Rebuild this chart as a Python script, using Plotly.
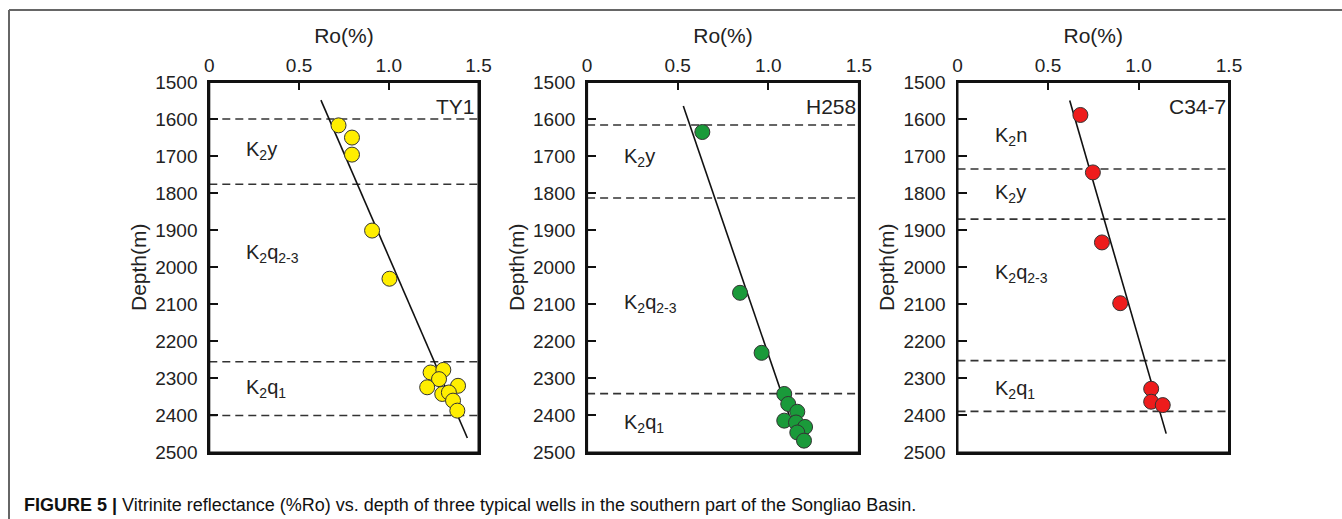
import plotly.graph_objects as go

# ---------------- data ----------------
wells = ["TY1", "H258", "C34-7"]

ty1_ro = [0.72, 0.795, 0.795, 0.907, 1.004, 1.233, 1.304, 1.28, 1.214, 1.386, 1.298, 1.335, 1.358, 1.382]
ty1_depth = [1617, 1650, 1696, 1901, 2031, 2284, 2277, 2302, 2324, 2320, 2342, 2338, 2360, 2387]
ty1_trend_ro = [0.622, 1.438]
ty1_trend_depth = [1549, 2461]
ty1_bounds = [1600, 1776, 2255, 2400]
ty1_units = ["K<sub>2</sub>y", "K<sub>2</sub>q<sub>2-3</sub>", "K<sub>2</sub>q<sub>1</sub>"]
ty1_unit_depth = [1685, 1963, 2328]

h258_ro = [0.636, 0.844, 0.963, 1.088, 1.11, 1.16, 1.088, 1.153, 1.203, 1.16, 1.197]
h258_depth = [1635, 2069, 2231, 2342, 2369, 2390, 2414, 2419, 2431, 2446, 2468]
h258_trend_ro = [0.531, 1.16]
h258_trend_depth = [1565, 2464]
h258_bounds = [1616, 1813, 2341]
h258_units = ["K<sub>2</sub>y", "K<sub>2</sub>q<sub>2-3</sub>", "K<sub>2</sub>q<sub>1</sub>"]
h258_unit_depth = [1703, 2099, 2423]

c347_ro = [0.679, 0.748, 0.798, 0.899, 1.07, 1.07, 1.134]
c347_depth = [1589, 1744, 1933, 2097, 2328, 2363, 2372]
c347_trend_ro = [0.62, 1.153]
c347_trend_depth = [1550, 2449]
c347_bounds = [1735, 1870, 2252, 2389]
c347_units = ["K<sub>2</sub>n", "K<sub>2</sub>y", "K<sub>2</sub>q<sub>2-3</sub>", "K<sub>2</sub>q<sub>1</sub>"]
c347_unit_depth = [1647, 1800, 2016, 2330]

x_ticks = [0, 0.5, 1.0, 1.5]
x_tick_text = ["0", "0.5", "1.0", "1.5"]
y_ticks = [1500, 1600, 1700, 1800, 1900, 2000, 2100, 2200, 2300, 2400, 2500]

caption = ("<b>FIGURE 5 |</b> Vitrinite reflectance (%Ro) vs. depth of three typical wells "
           "in the southern part of the Songliao Basin.")

# ---------------- styling ----------------
W, H = 1342, 519
FONT = "Liberation Sans, Arial, Helvetica, sans-serif"
TXT = "#222222"
colors = ["#FFEE00", "#1A9A3A", "#EE1C1C"]
x_domains = [(209.3 / W, 478.5 / W), (587.1 / W, 858.9 / W), (957.5 / W, 1229.0 / W)]
y_domain = [(H - 452.5) / H, (H - 82.0) / H]

panels = [
    (ty1_ro, ty1_depth, ty1_trend_ro, ty1_trend_depth, ty1_bounds, ty1_units, ty1_unit_depth),
    (h258_ro, h258_depth, h258_trend_ro, h258_trend_depth, h258_bounds, h258_units, h258_unit_depth),
    (c347_ro, c347_depth, c347_trend_ro, c347_trend_depth, c347_bounds, c347_units, c347_unit_depth),
]

fig = go.Figure()
shapes = []
annotations = []

for i, (ro, dep, tro, tdep, bounds, units, udep) in enumerate(panels):
    n = "" if i == 0 else str(i + 1)
    xa, ya = "x" + n, "y" + n
    # boundaries
    for b in bounds:
        shapes.append(dict(type="line", xref=xa + " domain", yref=ya, x0=0, x1=1, y0=b, y1=b,
                           line=dict(color="#333333", width=1.6, dash="8px,5px"), layer="below"))
    # plot frame
    shapes.append(dict(type="rect", xref=xa + " domain", yref=ya + " domain", x0=0, x1=1,
                       y0=0, y1=1, line=dict(color="#111111", width=2)))
    # trend line
    fig.add_trace(go.Scatter(x=tro, y=tdep, mode="lines", xaxis=xa, yaxis=ya,
                             line=dict(color="#111111", width=1.6), showlegend=False,
                             hoverinfo="skip"))
    # points
    fig.add_trace(go.Scatter(x=ro, y=dep, mode="markers", xaxis=xa, yaxis=ya,
                             marker=dict(size=15, color=colors[i],
                                         line=dict(color="#333333", width=1)),
                             showlegend=False))
    # unit labels
    for u, d in zip(units, udep):
        annotations.append(dict(xref=xa + " domain", yref=ya, x=0.13, y=d, text=u,
                                showarrow=False, xanchor="left", yanchor="middle",
                                font=dict(family=FONT, size=20, color=TXT)))
    # well name
    annotations.append(dict(xref=xa + " domain", yref=ya, x=0.995, y=1567, text=wells[i],
                            showarrow=False, xanchor="right", yanchor="middle",
                            font=dict(family=FONT, size=21, color=TXT)))

    axis_common = dict(showline=True, linecolor="#111111", linewidth=2, mirror=True,
                       ticks="inside", tickcolor="#111111", tickwidth=2, showgrid=False,
                       zeroline=False, automargin=False,
                       tickfont=dict(family=FONT, size=19, color=TXT))
    fig.update_layout(**{
        ("xaxis" + n): dict(domain=list(x_domains[i]), range=[0, 1.5], side="top",
                            anchor=ya, tickvals=x_ticks, ticktext=x_tick_text, ticklen=8,
                            title=dict(text="Ro(%)", font=dict(family=FONT, size=21, color=TXT),
                                       standoff=6),
                            **axis_common),
        ("yaxis" + n): dict(domain=y_domain, range=[2500, 1500], anchor=xa,
                            tickvals=y_ticks, ticklen=9, ticklabelstandoff=6,
                            title=dict(text="Depth(m)", font=dict(family=FONT, size=21, color=TXT),
                                       standoff=3),
                            **axis_common),
    })

# figure frame (top and left)
shapes.append(dict(type="line", xref="paper", yref="paper", x0=9 / W, x1=1, y0=(H - 10) / H,
                   y1=(H - 10) / H, line=dict(color="#666666", width=2)))
shapes.append(dict(type="line", xref="paper", yref="paper", x0=9 / W, x1=9 / W, y0=0,
                   y1=(H - 10) / H, line=dict(color="#666666", width=2)))

annotations.append(dict(xref="paper", yref="paper", x=22 / W, y=(H - 505) / H, text=caption,
                        showarrow=False, xanchor="left", yanchor="middle",
                        font=dict(family="Liberation Sans, Arial", size=18, color="#111111")))

fig.update_layout(width=W, height=H, margin=dict(l=0, r=0, t=0, b=0),
                  plot_bgcolor="white", paper_bgcolor="white",
                  shapes=shapes, annotations=annotations)

fig.write_html("out.html")
